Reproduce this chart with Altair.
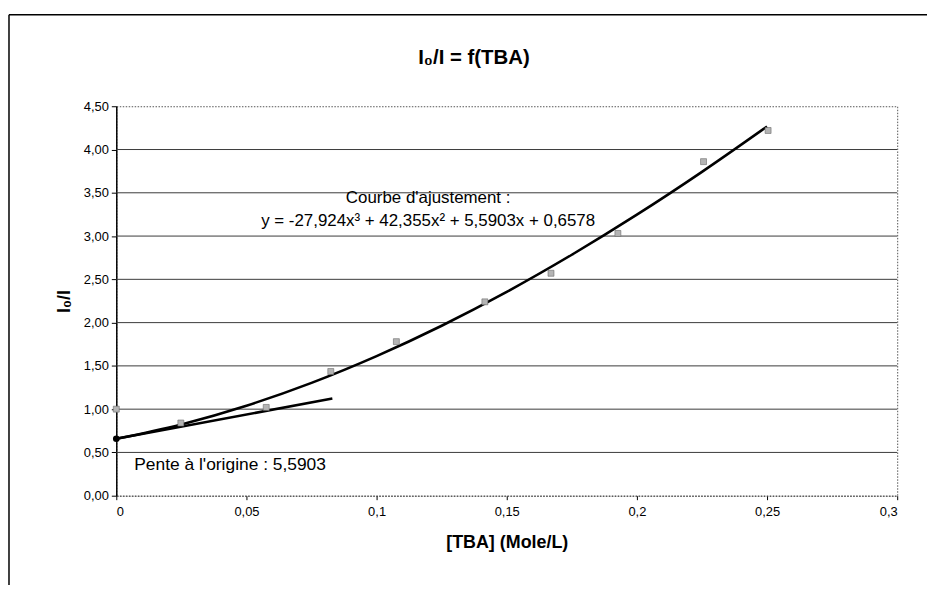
import altair as alt
import pandas as pd

# Measured points
tba = [0.0, 0.0248, 0.0576, 0.0824, 0.1076, 0.1416, 0.167, 0.1927, 0.2256, 0.2504]
ratio = [1.00, 0.84, 1.02, 1.435, 1.78, 2.24, 2.57, 3.03, 3.86, 4.22]

# Fitted curve
fit_x = [0.0, 0.025, 0.05, 0.075, 0.1, 0.125, 0.15, 0.175, 0.2, 0.225, 0.25]
fit_y = [0.658, 0.824, 1.040, 1.304, 1.613, 1.964, 2.355, 2.784, 3.247, 3.742, 4.266]

# Tangent at origin
tangent_x = [0.0, 0.083]
tangent_y = [0.6578, 1.122]

x_ticks = [0, 0.05, 0.1, 0.15, 0.2, 0.25, 0.3]
y_ticks = [0, 0.5, 1.0, 1.5, 2.0, 2.5, 3.0, 3.5, 4.0, 4.5]
grid_y = [0.5, 1.0, 1.5, 2.0, 2.5, 3.0, 3.5, 4.0]

title_text = "I\u2080/I = f(TBA)"
x_title = "[TBA] (Mole/L)"
y_title = "I\u2080/I"
note_lines = ["Courbe d'ajustement :", "y = -27,924x\u00b3 + 42,355x\u00b2 + 5,5903x + 0,6578"]
note_x = [0.1198, 0.1198]
note_y = [3.444, 3.168]
slope_text = "Pente à l'origine : 5,5903"
slope_x = 0.0069
slope_y = 0.356

W, H = 786, 392
FONT = "Liberation Sans"

x_axis = alt.Axis(values=x_ticks, grid=False, tickSize=4, tickColor="#000",
                  labelExpr="replace(format(datum.value, '.2~f'), '.', ',')",
                  labelFontSize=13, labelPadding=6, labelColor="#000",
                  domainColor="#444", domainDash=[1.5, 1.5], domainWidth=1,
                  title=x_title, titleFontSize=18, titleFontWeight="bold",
                  titleY=52, titleBaseline="alphabetic")
y_axis = alt.Axis(values=y_ticks, grid=False, tickSize=5, tickColor="#000",
                  labelExpr="replace(format(datum.value, '.2f'), '.', ',')",
                  labelFontSize=13, labelPadding=3, labelColor="#000",
                  domainColor="#000", domainWidth=1.5,
                  title=y_title, titleFontSize=18, titleFontWeight="bold",
                  titleAngle=270, titleX=-52, titleY=H / 2, titleBaseline="middle",
                  titleAlign="center")

xs = alt.Scale(domain=[0, 0.3], nice=False, zero=False)
ys = alt.Scale(domain=[0, 4.5], nice=False, zero=False)


def X():
    return alt.X("x:Q", scale=xs, axis=x_axis, title=x_title)


def Y():
    return alt.Y("y:Q", scale=ys, axis=y_axis, title=y_title)


grid = alt.Chart(pd.DataFrame({"y": grid_y})).mark_rule(color="#3a3a3a", strokeWidth=1).encode(
    y=Y(), x=alt.value(0), x2=alt.value(W)
)

fit = alt.Chart(pd.DataFrame({"x": fit_x, "y": fit_y})).mark_line(
    color="#000", strokeWidth=2.6, interpolate="monotone"
).encode(x=X(), y=Y())

tangent = alt.Chart(pd.DataFrame({"x": tangent_x, "y": tangent_y})).mark_line(
    color="#000", strokeWidth=2.6
).encode(x=X(), y=Y())

points = alt.Chart(pd.DataFrame({"x": tba, "y": ratio})).mark_square(
    size=36, fill="#b4b4b4", stroke="#6a6a6a", strokeWidth=0.6, opacity=1
).encode(x=X(), y=Y())

origin = alt.Chart(pd.DataFrame({"x": [tangent_x[0]], "y": [tangent_y[0]]})).mark_circle(
    size=45, color="#000", opacity=1
).encode(x=X(), y=Y())

notes = alt.Chart(pd.DataFrame({"x": note_x, "y": note_y, "t": note_lines})).mark_text(
    font=FONT, fontSize=17, color="#000", align="center", baseline="middle"
).encode(x=X(), y=Y(), text="t:N")

slope = alt.Chart(pd.DataFrame({"x": [slope_x], "y": [slope_y], "t": [slope_text]})).mark_text(
    font=FONT, fontSize=17.5, color="#000", align="left", baseline="middle"
).encode(x=X(), y=Y(), text="t:N")

title = alt.Chart(pd.DataFrame({"t": [title_text]})).mark_text(
    font=FONT, fontSize=20.5, fontWeight="bold", color="#000", align="center", baseline="alphabetic"
).encode(x=alt.value(360), y=alt.value(-43), text="t:N")

border_left = alt.Chart(pd.DataFrame({"t": [0]})).mark_rule(color="#000", strokeWidth=1.5).encode(
    x=alt.value(-108), y=alt.value(-92), y2=alt.value(482)
)
border_top = alt.Chart(pd.DataFrame({"t": [0]})).mark_rule(color="#000", strokeWidth=1.5).encode(
    x=alt.value(-108), x2=alt.value(W + 30), y=alt.value(-92)
)

chart = alt.layer(
    grid, fit, tangent, points, origin, notes, slope, title, border_left, border_top
).properties(
    width=W, height=H,
    autosize=alt.AutoSizeParams(type="none"),
    padding={"left": 109, "top": 97, "right": 30, "bottom": 90},
    background="#ffffff",
).configure_view(
    stroke="#555", strokeDash=[1.5, 1.5], strokeWidth=1
).configure_axis(
    labelFont=FONT, titleFont=FONT, titleColor="#000"
)

chart.save("out.html", embed_options={"renderer": "svg", "actions": False})
